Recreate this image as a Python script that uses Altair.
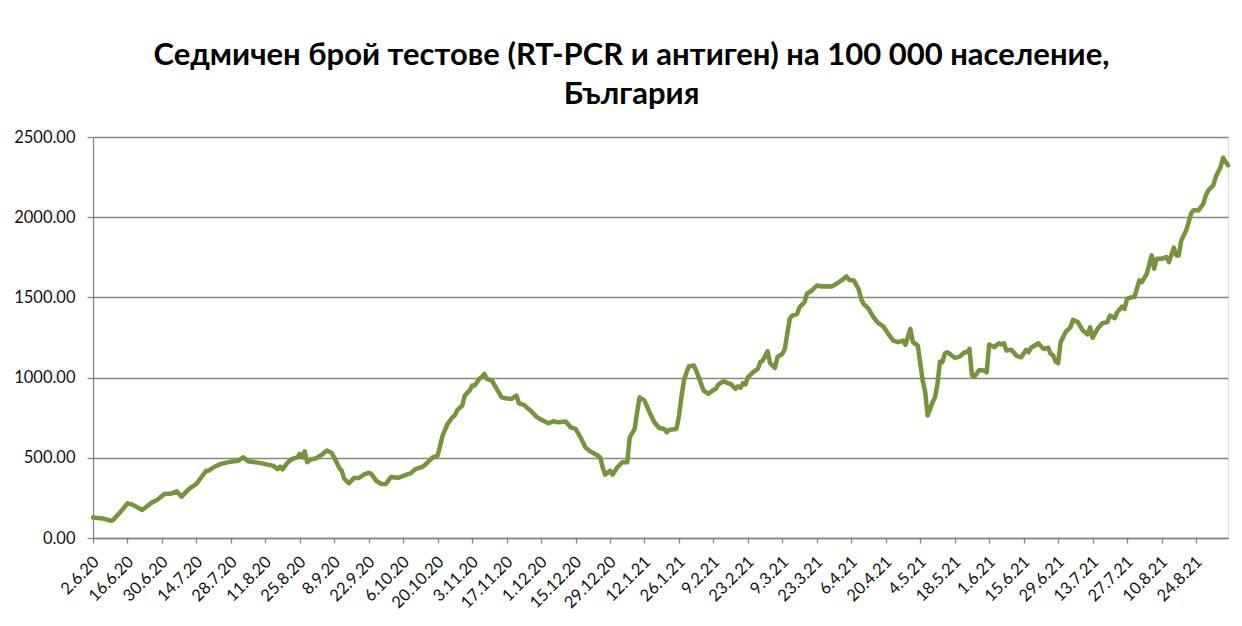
import json
import altair as alt
import pandas as pd

# Days since 2.6.20 and weekly tests per 100 000 population
day_offsets = [
    0, 4, 7, 8, 11, 14, 16, 20, 24, 26, 29, 32, 34, 36, 39, 42, 45, 46, 47, 49,
    52, 56, 59, 61, 63, 67, 73, 75, 76, 77, 79, 81, 83, 84, 85, 86, 87, 88, 91, 93,
    95, 97, 99, 100, 101, 102, 104, 106, 108, 110, 112, 113, 115, 117, 119, 121, 124, 127, 129, 131,
    134, 136, 138, 140, 141, 142, 144, 146, 147, 148, 150, 151, 153, 154, 155, 157, 158, 159, 160, 162,
    164, 166, 168, 170, 172, 173, 175, 178, 180, 182, 185, 187, 189, 192, 194, 196, 198, 200, 202, 205,
    206, 207, 208, 210, 211, 213, 215, 217, 218, 220, 221, 222, 224, 226, 228, 230, 232, 233, 234, 237,
    238, 239, 240, 241, 242, 244, 245, 247, 248, 250, 252, 253, 254, 256, 258, 259, 261, 262, 263, 264,
    265, 266, 268, 270, 271, 272, 274, 275, 277, 278, 280, 281, 283, 284, 286, 287, 289, 290, 292, 294,
    296, 298, 300, 302, 304, 306, 307, 309, 311, 312, 313, 315, 317, 319, 321, 323, 325, 327, 329, 330,
    331, 332, 333, 335, 336, 337, 338, 339, 341, 342, 343, 344, 345, 346, 347, 348, 350, 352, 354, 355,
    356, 357, 358, 360, 362, 363, 364, 366, 368, 369, 370, 371, 373, 375, 376, 377, 379, 380, 381, 384,
    386, 388, 389, 390, 391, 392, 393, 395, 397, 398, 400, 402, 404, 405, 406, 408, 410, 412, 413, 415,
    416, 418, 419, 420, 422, 423, 425, 426, 428, 430, 431, 432, 434, 436, 437, 439, 440, 441, 442, 444,
    446, 447, 449, 451, 452, 453, 455, 456, 458, 459, 461,
]
tests_per_100k = [
    128, 122, 108, 110, 160, 216, 208, 175, 222, 237, 275, 278, 291, 258, 306, 337, 399, 420, 420, 441,
    462, 476, 482, 503, 478, 470, 451, 430, 445, 428, 470, 493, 503, 524, 503, 540, 472, 487, 499, 520,
    545, 530, 470, 437, 420, 370, 341, 374, 374, 395, 407, 400, 358, 337, 337, 380, 375, 393, 403, 430,
    445, 472, 503, 514, 576, 638, 711, 753, 765, 799, 826, 888, 920, 950, 950, 995, 1004, 1023, 992, 982,
    930, 877, 870, 867, 888, 840, 830, 790, 757, 738, 715, 728, 721, 726, 690, 680, 628, 565, 540, 514,
    503, 441, 395, 420, 395, 441, 472, 472, 628, 680, 784, 877, 857, 784, 721, 686, 680, 659, 674, 680,
    760, 880, 980, 1030, 1069, 1075, 1044, 961, 919, 899, 923, 930, 957, 977, 965, 961, 930, 945, 936, 965,
    957, 1002, 1033, 1054, 1096, 1106, 1164, 1090, 1061, 1127, 1148, 1179, 1367, 1387, 1398, 1439, 1470, 1523, 1543, 1574,
    1568, 1570, 1568, 1585, 1606, 1631, 1610, 1606, 1550, 1490, 1460, 1429, 1377, 1339, 1319, 1273, 1231, 1221, 1231, 1204,
    1256, 1304, 1221, 1200, 1090, 980, 912, 763, 846, 877, 960, 1100, 1096, 1150, 1158, 1148, 1123, 1131, 1158, 1158,
    1179, 1013, 1006, 1048, 1044, 1033, 1206, 1190, 1214, 1206, 1214, 1169, 1173, 1138, 1131, 1127, 1173, 1158, 1186, 1214,
    1179, 1186, 1148, 1138, 1100, 1090, 1221, 1283, 1314, 1360, 1346, 1294, 1269, 1314, 1248, 1304, 1339, 1346, 1387, 1370,
    1408, 1443, 1429, 1491, 1502, 1502, 1606, 1595, 1647, 1762, 1679, 1741, 1741, 1751, 1720, 1810, 1762, 1762, 1855, 1917,
    2022, 2043, 2043, 2084, 2136, 2167, 2198, 2250, 2313, 2371, 2323,
]
tick_labels = [
    "2.6.20", "16.6.20", "30.6.20", "14.7.20", "28.7.20", "11.8.20", "25.8.20", "8.9.20",
    "22.9.20", "6.10.20", "20.10.20", "3.11.20", "17.11.20", "1.12.20", "15.12.20", "29.12.20",
    "12.1.21", "26.1.21", "9.2.21", "23.2.21", "9.3.21", "23.3.21", "6.4.21", "20.4.21",
    "4.5.21", "18.5.21", "1.6.21", "15.6.21", "29.6.21", "13.7.21", "27.7.21", "10.8.21", "24.8.21",
]
title_lines = ["Седмичен брой тестове (RT-PCR и антиген) на 100 000 население,", "България"]

df = pd.DataFrame({"day": day_offsets, "value": tests_per_100k})

tick_days = [i * 14 for i in range(len(tick_labels))]
label_expr = json.dumps(tick_labels) + "[round(datum.value / 14)]"

AXIS_GRAY = "#868686"
FONT = "Lato"

chart = (
    alt.Chart(df)
    .mark_line(color="#77933C", strokeWidth=4.5, strokeJoin="round", strokeCap="round")
    .encode(
        x=alt.X(
            "day:Q",
            scale=alt.Scale(domain=[0, 461], nice=False, zero=False),
            axis=alt.Axis(
                values=tick_days,
                labelExpr=label_expr,
                title=None,
                grid=False,
                labelAngle=-45,
                labelAlign="right",
                labelBaseline="middle",
                tickSize=5,
                labelPadding=16,
                labelOffset=3,
                labelFont=FONT,
                labelFontSize=16.5,
                labelColor="#111111",
                domainColor=AXIS_GRAY,
                tickColor=AXIS_GRAY,
                domainWidth=1.3,
                tickWidth=1.3,
                labelOverlap=False,
                labelBound=False,
                labelFlush=False,
            ),
        ),
        y=alt.Y(
            "value:Q",
            scale=alt.Scale(domain=[0, 2500], nice=False),
            axis=alt.Axis(
                values=[0, 500, 1000, 1500, 2000, 2500],
                format=".2f",
                title=None,
                grid=True,
                gridColor=AXIS_GRAY,
                gridWidth=1.3,
                domainColor=AXIS_GRAY,
                domainWidth=1.3,
                tickColor=AXIS_GRAY,
                tickWidth=1.3,
                tickSize=6,
                labelPadding=12,
                labelFont=FONT,
                labelFontSize=16.5,
                labelColor="#111111",
            ),
        ),
    )
    .properties(
        width=1135,
        height=401,
        autosize=alt.AutoSizeParams(type="none"),
        padding={"left": 85, "top": 129, "right": 6, "bottom": 80},
        title=alt.TitleParams(
            text=title_lines,
            font=FONT,
            fontSize=31,
            fontWeight="bold",
            color="#000000",
            anchor="middle",
            frame="group",
            dx=-29,
            offset=18,
            lineHeight=39,
        ),
    )
    .configure_view(stroke=None)
    .configure(background="white")
)

chart.save("out.html", embed_options={"renderer": "svg", "actions": False})
